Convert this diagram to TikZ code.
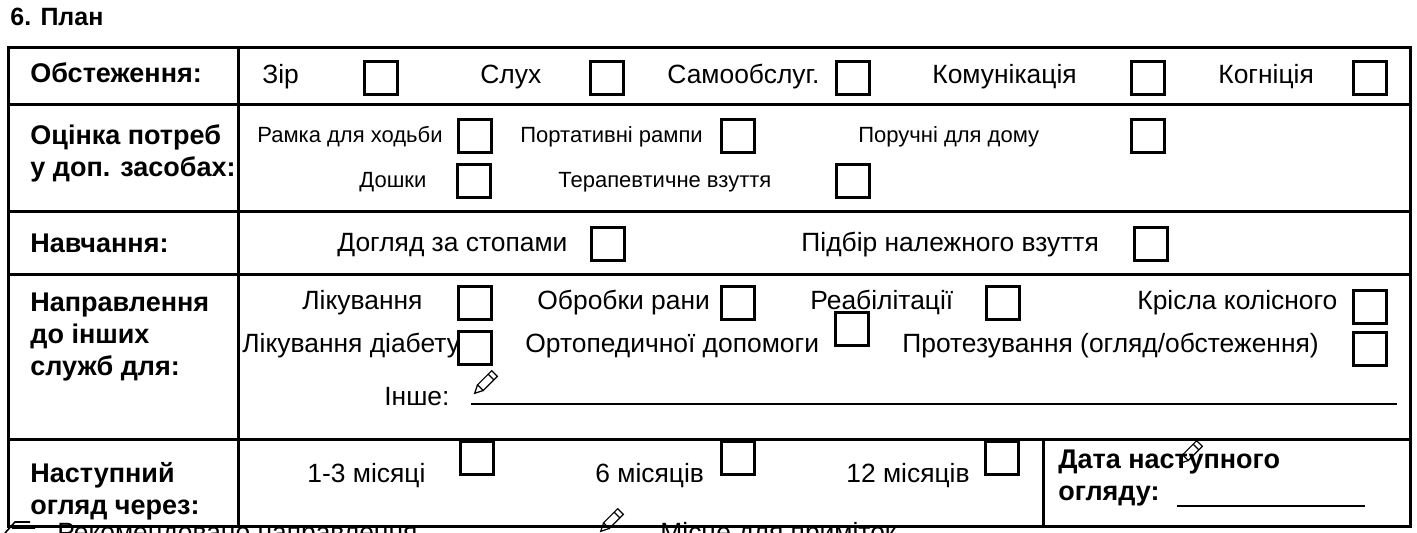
\documentclass[tikz,border=0pt]{standalone}
\usepackage{fontspec}
\setmainfont{Liberation Sans}
\begin{document}
\begin{tikzpicture}[x=0.5pt,y=-0.5pt,
  grid/.style={line width=1.5pt},
  cb/.style={draw,line width=1.5pt,minimum width=16.5pt,minimum height=16.5pt,inner sep=0pt,anchor=north west},
  lbl/.style={anchor=base west,inner sep=0pt,font=\fontsize{13.2}{15}\selectfont},
  sm/.style={anchor=base west,inner sep=0pt,font=\fontsize{11}{13}\selectfont},
  hd/.style={anchor=base west,inner sep=0pt,font=\bfseries\fontsize{13.5}{16}\selectfont,align=left}]
\useasboundingbox (0,0) rectangle (1417,533);
\clip (0,0) rectangle (1417,533);
\fill[white] (0,0) rectangle (1417,533);
\newcommand\mypencil[1]{\begin{scope}[shift={#1},rotate=-45,line width=0.6pt]
 \draw (-4,-12) rectangle (4,8); \draw (-4,8)--(0,16)--(4,8); \draw (-4,-7)--(4,-7);\end{scope}}
\node[anchor=base west,inner sep=0pt,font=\bfseries\fontsize{12.5}{14}\selectfont] (title) at (10,26) {6. План};
% grid
\draw[grid] (8,48) rectangle (1410,526);
\foreach \yy in {105,212,275,440} \draw[grid] (8,\yy)--(1410,\yy);
\draw[grid] (238,48)--(238,526);
\draw[grid] (1043,440)--(1043,526);
% headers
\node[hd] (h1) at (30,83) {Обстеження:};
\node[hd,anchor=north west] (h2) at (30,124) {Оцінка потреб\\у доп. засобах:};
\node[hd] (h3) at (30,253) {Навчання:};
\node[hd,anchor=north west] (h4) at (30,293) {Направлення\\до інших\\служб для:};
\node[hd,anchor=north west] (h5) at (30,462) {Наступний\\огляд через:};
% row1
\node[lbl] (t11) at (262,84) {Зір}; \node[cb] (b11) at (363,60) {};
\node[lbl] (t12) at (480,84) {Слух}; \node[cb] (b12) at (589,60) {};
\node[lbl] (t13) at (667,84) {Самообслуг.}; \node[cb] (b13) at (835,60) {};
\node[lbl] (t14) at (932,84) {Комунікація}; \node[cb] (b14) at (1130,60) {};
\node[lbl] (t15) at (1218,84) {Когніція}; \node[cb] (b15) at (1352,60) {};
% row2
\node[sm] (t21) at (257,143) {Рамка для ходьби}; \node[cb] (b21) at (457,118) {};
\node[sm] (t22) at (520,143) {Портативні рампи}; \node[cb] (b22) at (720,118) {};
\node[sm] (t23) at (858,143) {Поручні для дому}; \node[cb] (b23) at (1130,118) {};
\node[sm] (t24) at (359,188) {Дошки}; \node[cb] (b24) at (456,163) {};
\node[sm] (t25) at (558,188) {Терапевтичне взуття}; \node[cb] (b25) at (835,163) {};
% row3
\node[lbl] (t31) at (337,252) {Догляд за стопами}; \node[cb] (b31) at (590,226) {};
\node[lbl] (t32) at (801,252) {Підбір належного взуття}; \node[cb] (b32) at (1133,226) {};
% row4
\node[lbl] (t41) at (302,310) {Лікування}; \node[cb] (b41) at (457,285) {};
\node[lbl] (t42) at (537,310) {Обробки рани}; \node[cb] (b42) at (720,285) {};
\node[lbl] (t43) at (810,310) {Реабілітації}; \node[cb] (b43) at (985,285) {};
\node[lbl] (t44) at (1137,310) {Крісла колісного}; \node[cb] (b44) at (1352,289) {};
\node[lbl] (t45) at (242,353) {Лікування діабету}; \node[cb] (b45) at (457,330) {};
\node[lbl] (t46) at (525,353) {Ортопедичної допомоги}; \node[cb] (b46) at (834,311) {};
\node[lbl] (t47) at (902,353) {Протезування (огляд/обстеження)}; \node[cb] (b47) at (1352,331) {};
\node[lbl] (t48) at (384,406) {Інше:};
\coordinate (l1) at (471,404); \coordinate (l2) at (1397,404);
\draw[line width=1.2pt] (l1)--(l2);
\mypencil{(486,382)}
% row5
\node[lbl] (t51) at (307,482) {1-3 місяці}; \node[cb] (b51) at (459,440) {};
\node[lbl] (t52) at (595,482) {6 місяців}; \node[cb] (b52) at (720,440) {};
\node[lbl] (t53) at (846,482) {12 місяців}; \node[cb] (b53) at (984,440) {};
\node[hd,anchor=north west] (h6) at (1058,450) {Дата наступного\\огляду:};
\coordinate (m1) at (1177,506); \coordinate (m2) at (1365,506);
\draw[line width=1.2pt] (m1)--(m2);
\mypencil{(1191,452)}
% bottom (cut off, as in the reference)
\draw[line width=0.8pt] (5,533)--(15,522)--(30,522) (12,528)--(35,528);
\node[lbl] (n1) at (57,541) {Рекомендовано направлення};
\mypencil{(612,520)}
\node[lbl] (n2) at (660,541) {Місце для приміток};
\end{tikzpicture}
\end{document}
